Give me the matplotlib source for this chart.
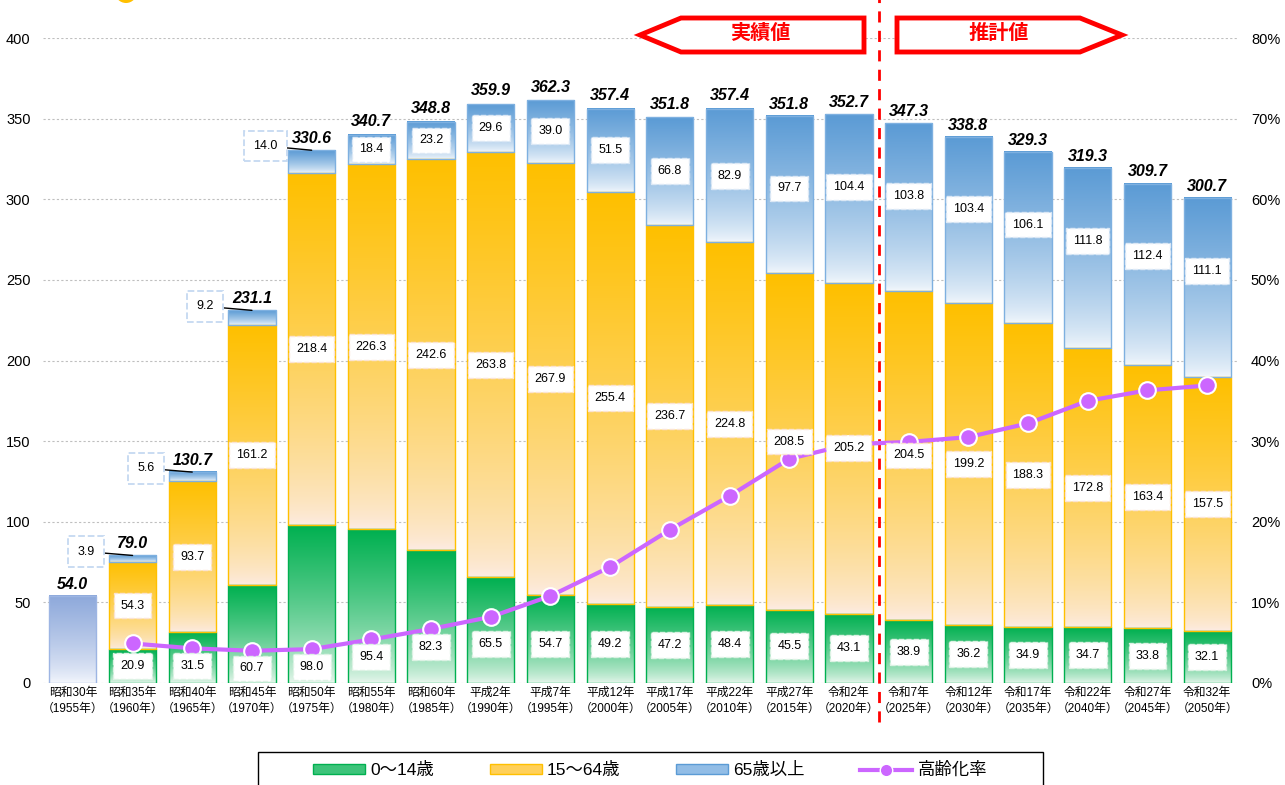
import numpy as np
import matplotlib

matplotlib.use("Agg")
import matplotlib.pyplot as plt
from matplotlib.colors import to_rgb
from matplotlib.lines import Line2D
from matplotlib.patches import Ellipse, Patch, Polygon, Rectangle
from matplotlib.transforms import blended_transform_factory

plt.rcParams["font.family"] = ["Liberation Sans", "Noto Sans CJK JP"]

ERAS = [
    "昭和30年", "昭和35年", "昭和40年", "昭和45年", "昭和50年", "昭和55年", "昭和60年",
    "平成2年", "平成7年", "平成12年", "平成17年", "平成22年", "平成27年", "令和2年",
    "令和7年", "令和12年", "令和17年", "令和22年", "令和27年", "令和32年",
]
YEARS = [1955, 1960, 1965, 1970, 1975, 1980, 1985, 1990, 1995, 2000,
         2005, 2010, 2015, 2020, 2025, 2030, 2035, 2040, 2045, 2050]

# 1955 has only the total (no age breakdown)
CHILD = [np.nan, 20.9, 31.5, 60.7, 98.0, 95.4, 82.3, 65.5, 54.7, 49.2,
         47.2, 48.4, 45.5, 43.1, 38.9, 36.2, 34.9, 34.7, 33.8, 32.1]
WORKING = [np.nan, 54.3, 93.7, 161.2, 218.4, 226.3, 242.6, 263.8, 267.9, 255.4,
           236.7, 224.8, 208.5, 205.2, 204.5, 199.2, 188.3, 172.8, 163.4, 157.5]
ELDERLY = [np.nan, 3.9, 5.6, 9.2, 14.0, 18.4, 23.2, 29.6, 39.0, 51.5,
           66.8, 82.9, 97.7, 104.4, 103.8, 103.4, 106.1, 111.8, 112.4, 111.1]
TOTAL = [54.0, 79.0, 130.7, 231.1, 330.6, 340.7, 348.8, 359.9, 362.3, 357.4,
         351.8, 357.4, 351.8, 352.7, 347.3, 338.8, 329.3, 319.3, 309.7, 300.7]
AGING_RATE = [np.nan, 4.9, 4.3, 4.0, 4.2, 5.4, 6.7, 8.2, 10.8, 14.4,
              19.0, 23.2, 27.8, 29.6, 29.9, 30.5, 32.2, 35.0, 36.3, 36.9]

W, H = 1285, 785
BAR_W = 0.79
GREEN = ("#00B050", "#E9F7EE")
YELLOW = ("#FFC000", "#FCEBE1")
BLUE = ("#5B9BD5", "#F2F7FC")
TOTAL_ONLY = ("#8EA9DB", "#F6F8FD")
LINE_COLOR = "#CC66FF"


def fx(px):
    return px / W


def fy(py):
    return 1 - py / H


def gradient_bar(ax, x, bottom, height, colors, edge):
    top_c = np.array(to_rgb(colors[0]))
    bot_c = np.array(to_rgb(colors[1]))
    t = np.linspace(0, 1, 96) ** 0.7
    img = bot_c + (top_c - bot_c) * t[:, None, None]
    ax.imshow(img, extent=[x - BAR_W / 2, x + BAR_W / 2, bottom, bottom + height],
              origin="lower", aspect="auto", interpolation="bilinear", zorder=2)
    ax.add_patch(Rectangle((x - BAR_W / 2, bottom), BAR_W, height, fill=False,
                           ec=edge, lw=1.0, zorder=2.5))


fig = plt.figure(figsize=(W / 100, H / 100), dpi=100)
ax = fig.add_axes([fx(43), fy(683), fx(1237) - fx(43), fy(38) - fy(683)])
ax2 = ax.twinx()


def value_box(x, y, value, edge="#E6E6E6"):
    # drawn on the top axes so the boxes sit above the rate line
    ax2.text(x, y, f"{value:.1f}", ha="center", va="center", fontsize=9, zorder=7,
             transform=ax.transData,
             bbox=dict(boxstyle="square,pad=0.55", fc="white", ec=edge, lw=1.0, ls="--"))


x = np.arange(len(YEARS))

for i in x:
    if np.isnan(CHILD[i]):
        gradient_bar(ax, i, 0, TOTAL[i], TOTAL_ONLY, "#9DB5E3")
        continue
    c, w, e = CHILD[i], WORKING[i], ELDERLY[i]
    gradient_bar(ax, i, 0, c, GREEN, "#00B050")
    gradient_bar(ax, i, c, w, YELLOW, "#FFC000")
    gradient_bar(ax, i, c + w, e, BLUE, "#7EB0E0")

    green_y = min(c / 2, 24, AGING_RATE[i] * 5 - 11)
    value_box(i, green_y, c, edge="#DDF2E4")
    value_box(i, c + w / 2, w, edge="#FBE3D3")
    if e < 15:
        ax.annotate(f"{e:.1f}", xy=(i, c + w + e), xytext=(i - 0.78, TOTAL[i] + 2.5),
                    ha="center", va="center", fontsize=9, zorder=4,
                    bbox=dict(boxstyle="square,pad=0.75", fc="white", ec="#C5D9F1",
                              lw=1.3, ls="--"),
                    arrowprops=dict(arrowstyle="-", color="black", lw=1.0,
                                    shrinkA=0, shrinkB=0))
    else:
        value_box(i, c + w + e - min(e / 2, 45), e, edge="#DCE8F5")

for i in x:
    ax.annotate(f"{TOTAL[i]:.1f}", xy=(i, TOTAL[i]), xytext=(0, 3),
                textcoords="offset points", ha="center", va="bottom",
                fontsize=11.5, fontweight="bold", fontstyle="italic", zorder=4)

ax.set_xlim(-0.5, len(YEARS) - 0.5)
ax.set_ylim(0, 400)
ax.set_yticks(np.arange(0, 401, 50))
ax.set_xticks(x)
ax.set_xticklabels([f"{e}\n（{y}年）" for e, y in zip(ERAS, YEARS)],
                   fontsize=8.5, linespacing=1.45)
ax.tick_params(axis="x", length=0, pad=3)
ax.tick_params(axis="y", length=0, pad=9, labelsize=10.5)
ax.grid(axis="y", color="#BFBFBF", lw=0.8, ls=(0, (2, 2)))
ax.set_axisbelow(True)
for s in ax.spines.values():
    s.set_visible(False)

ax2.plot(x, AGING_RATE, color=LINE_COLOR, lw=3, marker="o", ms=12,
         mfc=LINE_COLOR, mec="white", mew=1.5, zorder=5)
ax2.set_ylim(0, 80)
ax2.set_yticks(np.arange(0, 81, 10))
ax2.set_yticklabels([f"{v}%" for v in range(0, 81, 10)])
ax2.tick_params(axis="y", length=0, pad=10, labelsize=10.5)
for s in ax2.spines.values():
    s.set_visible(False)

# actual / projected divider
trans = blended_transform_factory(ax.transData, ax.transAxes)
ax.plot([13.5, 13.5], [-0.06, 1.07], transform=trans, color="red", lw=2,
        ls=(0, (4, 3)), clip_on=False, zorder=6)

past = [(640, 35), (681, 18), (864, 18), (864, 52), (681, 52)]
future = [(897, 18), (1080, 18), (1122, 35), (1080, 52), (897, 52)]
for pts in (past, future):
    fig.add_artist(Polygon([(fx(a), fy(b)) for a, b in pts], closed=True,
                           fc="white", ec="red", lw=3.5, joinstyle="miter",
                           transform=fig.transFigure))
fig.text(fx(760), fy(33), "実績値", color="red", fontsize=14.5, fontweight="bold",
         ha="center", va="center")
fig.text(fx(999), fy(33), "推計値", color="red", fontsize=14.5, fontweight="bold",
         ha="center", va="center")

# title marker, cut off by the top edge as in the source
fig.add_artist(Ellipse((fx(126), fy(-8)), 22 / W, 22 / H, fc="#FFC000", ec="none",
                       transform=fig.transFigure))

# legend
fig.add_artist(Rectangle((fx(258), fy(800)), fx(1043) - fx(258), fy(752) - fy(800),
                         fill=False, ec="black", lw=1, transform=fig.transFigure))
handles = [
    Patch(fc="#3DC47A", ec="#00B050"),
    Patch(fc="#FFD05A", ec="#FFC000"),
    Patch(fc="#92BDE6", ec="#5B9BD5"),
    Line2D([], [], color=LINE_COLOR, lw=3, marker="o", ms=9, mfc=LINE_COLOR, mec="white"),
]
fig.legend(handles, ["0～14歳", "15～64歳", "65歳以上", "高齢化率"],
           loc="center", bbox_to_anchor=(fx(650), fy(770)), ncol=4, frameon=False,
           fontsize=12.5, handlelength=3.0, handleheight=0.5, handletextpad=0.3,
           columnspacing=3.2)

fig.savefig("out.png", dpi=100)
